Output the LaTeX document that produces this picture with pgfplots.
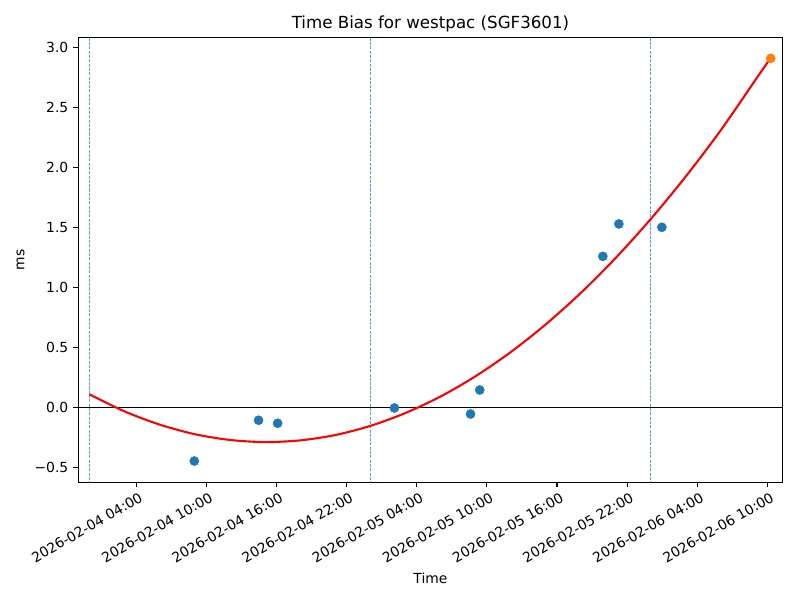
\documentclass[border=0pt]{standalone}
\usepackage{pgfplots}
\pgfplotsset{compat=1.18}
\usepackage{fontspec}
\setmainfont{DejaVu Sans}
\definecolor{C0}{HTML}{1F77B4}
\definecolor{C1}{HTML}{FF7F0E}
\begin{document}
\begin{tikzpicture}
\begin{axis}[
  at={(0,0)}, anchor=south west,
  scale only axis, width=507.2pt, height=320.4pt,
  xmin=-0.95, xmax=59.3, ymin=-0.625, ymax=3.083,
  axis line style={line width=0.8pt},
  every tick/.style={black, line width=0.8pt},
  tick align=outside, major tick length=3.5pt, tick pos=left,
  xtick={4,10,16,22,28,34,40,46,52,58},
  xticklabels={2026-02-04 04:00,2026-02-04 10:00,2026-02-04 16:00,2026-02-04 22:00,2026-02-05 04:00,2026-02-05 10:00,2026-02-05 16:00,2026-02-05 22:00,2026-02-06 04:00,2026-02-06 10:00},
  xticklabel style={font=\fontsize{10}{12}\selectfont, rotate=30, anchor=north east, inner sep=0pt, yshift=-3.5pt},
  ytick={-0.5,0,0.5,1,1.5,2,2.5,3},
  yticklabels={−0.5,0.0,0.5,1.0,1.5,2.0,2.5,3.0},
  yticklabel style={font=\fontsize{10}{12}\selectfont, inner sep=0pt, xshift=-3.5pt},
  xlabel={Time}, ylabel={ms},
  xlabel shift=3pt, ylabel shift=3.6pt,
  label style={font=\fontsize{10}{12}\selectfont},
  title={Time Bias for westpac (SGF3601)},
  title style={font=\fontsize{12}{14}\selectfont, at={(axis description cs:0.5,1)}, anchor=south, yshift=-5.6pt},
  clip=true,
]
% midnight markers
\addplot[C0, line width=0.6pt, dash pattern=on 2.2pt off 0.9pt, opacity=0.7] coordinates {(0,-1) (0,4)};
\addplot[C0, line width=0.6pt, dash pattern=on 2.2pt off 0.9pt, opacity=0.7] coordinates {(24,-1) (24,4)};
\addplot[C0, line width=0.6pt, dash pattern=on 2.2pt off 0.9pt, opacity=0.7] coordinates {(48,-1) (48,4)};
% zero line
\addplot[black, line width=0.7pt] coordinates {(-5,0) (65,0)};
% fit
\addplot[red, line width=1.5pt, smooth] coordinates {
(0,0.108) (3,-0.034) (6,-0.144) (9,-0.224) (12,-0.272) (15,-0.290) (18,-0.276)
(21,-0.232) (24,-0.156) (27,-0.049) (30,0.088) (33,0.257) (36,0.457) (39,0.688)
(42,0.950) (45,1.243) (48,1.567) (51,1.922) (54,2.308) (57,2.732) (58.28,2.913)};
% measurements
\addplot[only marks, mark=*, mark size=3.3pt, mark options={solid, fill=C0, draw=C0, line width=0.3pt}] coordinates {
(8.97,-0.448) (14.47,-0.108) (16.10,-0.133) (26.09,-0.006) (32.6,-0.056)
(33.39,0.144) (43.92,1.258) (45.29,1.528) (48.97,1.500)};
\addplot[only marks, mark=*, mark size=3.3pt, mark options={solid, fill=C1, draw=C1, line width=0.3pt}] coordinates {(58.28,2.908)};
\end{axis}
\pgfresetboundingbox
\path[use as bounding box] (-56.4pt,-84.7pt) rectangle (519.7pt,347.3pt);
\end{tikzpicture}
\end{document}
